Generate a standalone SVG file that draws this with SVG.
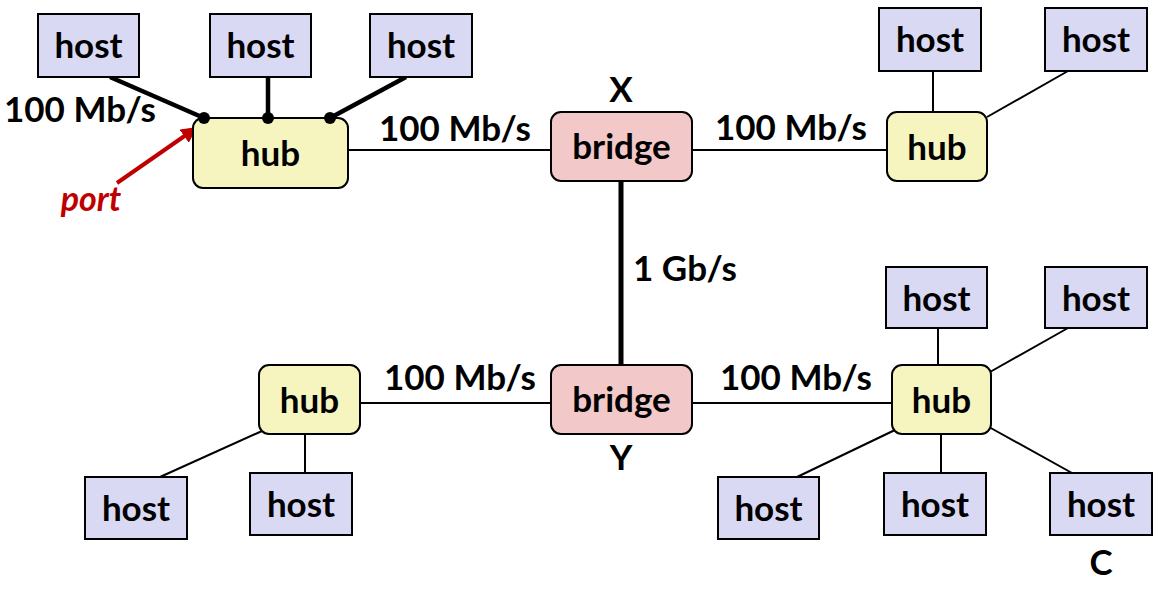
<svg xmlns="http://www.w3.org/2000/svg" width="1165" height="590" viewBox="0 0 1165 590">
<style>
.host{fill:#d9d9f3;stroke:#000;stroke-width:2}
.hub{fill:#f6f5c0;stroke:#000;stroke-width:2}
.bridge{fill:#f2c8c8;stroke:#000;stroke-width:2}
.t{font-family:Lato,"Liberation Sans",sans-serif;font-weight:bold;font-size:35px;fill:#000;text-anchor:middle}
.lbl{font-family:Lato,"Liberation Sans",sans-serif;font-weight:bold;font-size:35px;fill:#000}
.ln{stroke:#000;stroke-width:2;fill:none}
.thick{stroke:#000;stroke-width:4.5;fill:none}
</style>
<defs>
<marker id="ah" viewBox="0 0 10 10" refX="9" refY="5" markerWidth="4" markerHeight="4" orient="auto" markerUnits="strokeWidth">
<path d="M0,0 L10,5 L0,10 z" fill="#c00000"/>
</marker>
</defs>
<g id="connectors">
<line class="thick" x1="110" y1="77" x2="204" y2="118"/>
<line class="thick" x1="268" y1="77" x2="268" y2="118"/>
<line class="thick" x1="406" y1="77" x2="330" y2="118"/>
<line class="ln" x1="348" y1="150" x2="551" y2="150"/>
<line class="ln" x1="692" y1="150" x2="887" y2="150"/>
<line class="ln" x1="933" y1="71" x2="933" y2="112"/>
<line class="ln" x1="1068" y1="71" x2="987" y2="117"/>
<line class="thick" x1="621" y1="181" x2="621" y2="365" style="stroke-width:5"/>
<line class="ln" x1="360" y1="403" x2="551" y2="403"/>
<line class="ln" x1="160" y1="477" x2="262" y2="431"/>
<line class="ln" x1="305" y1="434" x2="305" y2="473"/>
<line class="ln" x1="692" y1="403" x2="892" y2="403"/>
<line class="ln" x1="938" y1="328" x2="938" y2="365"/>
<line class="ln" x1="1068" y1="328" x2="990" y2="372"/>
<line class="ln" x1="797" y1="477" x2="897" y2="429"/>
<line class="ln" x1="941" y1="434" x2="941" y2="473"/>
<line class="ln" x1="1072" y1="473" x2="989" y2="427"/>
<line x1="117" y1="183" x2="196" y2="128" stroke="#c00000" stroke-width="4" marker-end="url(#ah)"/>
</g>
<g id="labels">
<text class="lbl" x="4" y="122">100 Mb/s</text>
<text class="lbl" x="379" y="141">100 Mb/s</text>
<text class="lbl" x="715" y="140">100 Mb/s</text>
<text class="lbl" x="633" y="281">1 Gb/s</text>
<text class="lbl" x="384" y="390">100 Mb/s</text>
<text class="lbl" x="720" y="390">100 Mb/s</text>
<text class="t" x="621" y="102">X</text>
<text class="t" x="621" y="470">Y</text>
<text class="t" x="1101" y="575">C</text>
<text x="91" y="211" style="font-family:Lato,'Liberation Sans',sans-serif;font-weight:bold;font-style:italic;font-size:34px;fill:#c00000;text-anchor:middle">port</text>
</g>
<g id="host-tl1"><rect class="host" x="38" y="14" width="101" height="63"/><text class="t" x="88.5" y="58">host</text></g>
<g id="host-tl2"><rect class="host" x="210" y="14" width="101" height="63"/><text class="t" x="260.5" y="58">host</text></g>
<g id="host-tl3"><rect class="host" x="370" y="14" width="102" height="63"/><text class="t" x="421" y="58">host</text></g>
<g id="hub-tl"><rect class="hub" x="193" y="118" width="155" height="70" rx="10"/><text class="t" x="270.5" y="166">hub</text></g>
<g id="bridge-x"><rect class="bridge" x="551" y="112" width="141" height="69" rx="10"/><text class="t" x="621.5" y="159">bridge</text></g>
<g id="hub-tr"><rect class="hub" x="887" y="112" width="100" height="69" rx="10"/><text class="t" x="937" y="160">hub</text></g>
<g id="host-tr1"><rect class="host" x="879" y="8" width="102" height="63"/><text class="t" x="930" y="52">host</text></g>
<g id="host-tr2"><rect class="host" x="1045" y="8" width="102" height="63"/><text class="t" x="1096" y="52">host</text></g>
<g id="bridge-y"><rect class="bridge" x="551" y="365" width="141" height="69" rx="10"/><text class="t" x="621.5" y="412">bridge</text></g>
<g id="hub-bl"><rect class="hub" x="259" y="365" width="101" height="69" rx="10"/><text class="t" x="309.5" y="413">hub</text></g>
<g id="host-bl1"><rect class="host" x="85" y="477" width="102" height="62"/><text class="t" x="136" y="521">host</text></g>
<g id="host-bl2"><rect class="host" x="250" y="473" width="102" height="62"/><text class="t" x="301" y="517">host</text></g>
<g id="hub-br"><rect class="hub" x="892" y="365" width="99" height="69" rx="10"/><text class="t" x="941.5" y="413">hub</text></g>
<g id="host-br1"><rect class="host" x="886" y="267" width="101" height="61"/><text class="t" x="936.5" y="311">host</text></g>
<g id="host-br2"><rect class="host" x="1045" y="267" width="102" height="61"/><text class="t" x="1096" y="311">host</text></g>
<g id="host-br3"><rect class="host" x="718" y="477" width="101" height="62"/><text class="t" x="768.5" y="521">host</text></g>
<g id="host-br4"><rect class="host" x="884" y="473" width="102" height="62"/><text class="t" x="935" y="517">host</text></g>
<g id="host-br5"><rect class="host" x="1050" y="473" width="102" height="62"/><text class="t" x="1101" y="517">host</text></g>
<g id="ports">
<circle cx="204" cy="118" r="6" fill="#000"/>
<circle cx="268" cy="118" r="6" fill="#000"/>
<circle cx="330" cy="118" r="6" fill="#000"/>
</g>
</svg>
